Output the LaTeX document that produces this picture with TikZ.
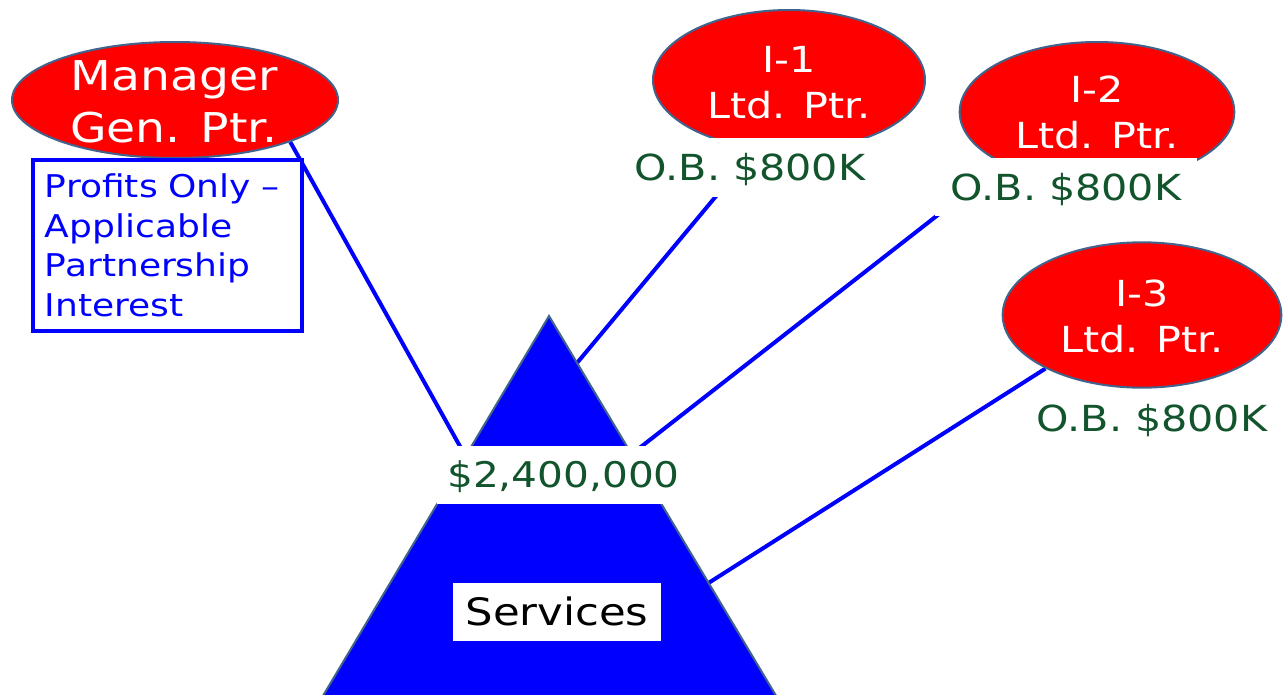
\documentclass[tikz,border=0pt]{standalone}
\usepackage{fontspec}
\setmainfont{DejaVu Sans}[FakeStretch=1.15]
\usetikzlibrary{shapes.geometric}
\definecolor{ptrred}{RGB}{255,0,0}
\definecolor{rim}{RGB}{64,100,140}
\definecolor{pureblue}{RGB}{0,0,255}
\definecolor{money}{RGB}{18,84,44}
\pgfdeclarelayer{bg}
\pgfsetlayers{bg,main}
\begin{document}
\begin{tikzpicture}[x=0.75pt,y=-0.75pt,
  partner/.style={ellipse, fill=ptrred, draw=rim, line width=1.5pt, inner sep=0pt},
  ptrtext/.style={text=white, align=center, inner sep=0pt, anchor=base},
  mgrfont/.style={font=\fontsize{30.8}{39}\selectfont},
  ltdfont/.style={font=\fontsize{26.9}{34.5}\selectfont},
  oblabel/.style={text=money, font=\fontsize{26.9}{32}\selectfont, inner sep=0pt,
    text height=19.6pt, text depth=0pt},
  tie/.style={draw=pureblue, line width=3pt},
  whitebox/.style={fill=white, inner sep=0pt, text depth=0pt}
]
\useasboundingbox (0,0) rectangle (1283,694);

% the pool of capital and services
\coordinate (apex) at (549,316);
\coordinate (baseL) at (320.5,700);
\coordinate (baseR) at (778.6,700);
\fill[pureblue, draw=rim, line width=1.5pt] (apex) -- (baseL) -- (baseR) -- cycle;

% partners (text anchored at the baseline of the second line)
\node[partner, minimum width=244.5pt, minimum height=87pt] (mgr) at (175,100) {};
\node[ptrtext, mgrfont] (mgrtxt) at (174,142) {Manager\\Gen. Ptr.};

\node[partner, minimum width=204pt, minimum height=105pt] (i1) at (789,80) {};
\node[ptrtext, ltdfont] (i1txt) at (789,118) {I-1\\Ltd. Ptr.};

\node[partner, minimum width=206pt, minimum height=105pt] (i2) at (1097,112) {};
\node[ptrtext, ltdfont] (i2txt) at (1097,148) {I-2\\Ltd. Ptr.};

\node[partner, minimum width=209pt, minimum height=109pt] (i3) at (1142,315) {};
\node[ptrtext, ltdfont] (i3txt) at (1142,352) {I-3\\Ltd. Ptr.};

% opening balances
\node[oblabel, fill=white, minimum width=187.5pt, minimum height=44.25pt] (ob1) at (750,167.5) {O.B. \$800K};
\node[oblabel, fill=white, minimum width=196.5pt, minimum height=43.5pt] (ob2) at (1066,187) {O.B. \$800K};
\node[oblabel] (ob3) at (1152,418.5) {O.B. \$800K};

% fund total and services
\node[whitebox, text=money, font=\fontsize{26.5}{32}\selectfont, text height=19.3pt,
  minimum width=190.5pt, minimum height=43.5pt] (total) at (563.5,475) {\$2,400,000};
\node[whitebox, text=black, font=\fontsize{28.3}{34}\selectfont, text height=20.6pt,
  minimum width=156pt, minimum height=43.5pt] (svc) at (557,612) {Services};

% profits interest note
\node[draw=pureblue, line width=3pt, text=pureblue, fill=white, align=left,
  text width=183.75pt,
  font=\fontsize{23.5}{29.6}\selectfont, minimum width=201.75pt, minimum height=128.25pt,
  inner sep=0pt] (note) at (167.5,245.5)
  {Profits Only --\\Applicable\\Partnership\\Interest};

% ties from each partner into the pool
\coordinate (t0) at (476,475);
\coordinate (t1) at (572,369);
\coordinate (t2) at (610,471);
\coordinate (t3) at (700.6,588);
\begin{pgfonlayer}{bg}
  \draw[tie] (mgr.-20.5) -- (t0);
  \draw[tie] (t1) -- (i1.-116);
  \draw[tie] (t2) -- (i2.-151);
  \draw[tie] (t3) -- (i3.-151.3);
\end{pgfonlayer}
\end{tikzpicture}
\end{document}
